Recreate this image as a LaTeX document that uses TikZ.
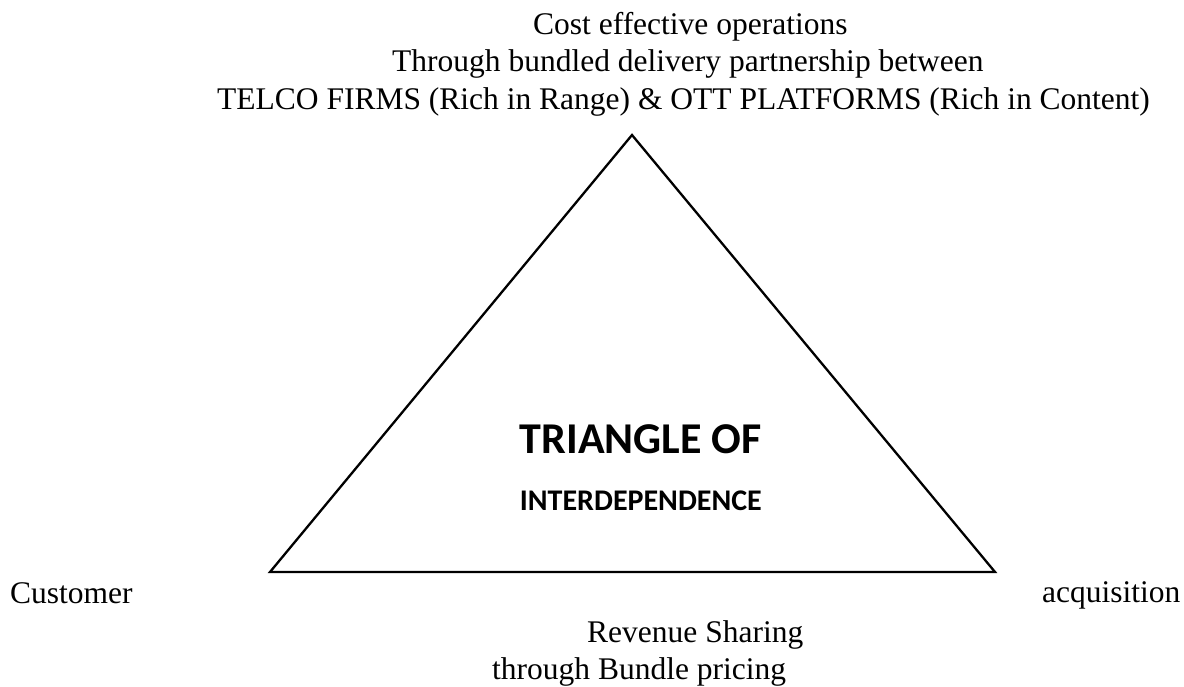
\documentclass[tikz,border=0pt]{standalone}
\usepackage{fontspec}
\setmainfont{Liberation Serif}
\newfontfamily\headfont{Carlito}
\begin{document}
\begin{tikzpicture}[x=1pt,y=-1pt,
  lbl/.style={inner sep=0pt,anchor=base west,font=\fontsize{31.5}{36}\selectfont},
  head/.style={inner sep=0pt,anchor=base east}]
\useasboundingbox (0,0) rectangle (1184,687);
% triangle corners
\coordinate (apex) at (632,135);
\coordinate (bl) at (270,572);
\coordinate (br) at (995,572);
\draw[line width=2.3pt,line join=miter] (apex) -- (bl) -- (br) -- cycle;
% top caption
\node[lbl] (t1) at (533,35) {Cost effective operations};
\node[lbl] (t2) at (392,72) {Through bundled delivery partnership between};
\node[lbl] (t3) at (217,110) {TELCO FIRMS (Rich in Range) \& OTT PLATFORMS (Rich in Content)};
% centre title
\node[head,font=\headfont\bfseries\fontsize{44}{48}\selectfont] (h1) at (762,453) {TRIANGLE OF};
\node[head,font=\headfont\bfseries\fontsize{30}{34}\selectfont] (h2) at (762,510) {INTERDEPENDENCE};
% corner and base labels
\node[lbl] (c1) at (10,603) {Customer};
\node[lbl] (c2) at (1042,602) {acquisition};
\node[lbl] (b1) at (587,642) {Revenue Sharing};
\node[lbl] (b2) at (492,679) {through Bundle pricing};
\end{tikzpicture}
\end{document}
